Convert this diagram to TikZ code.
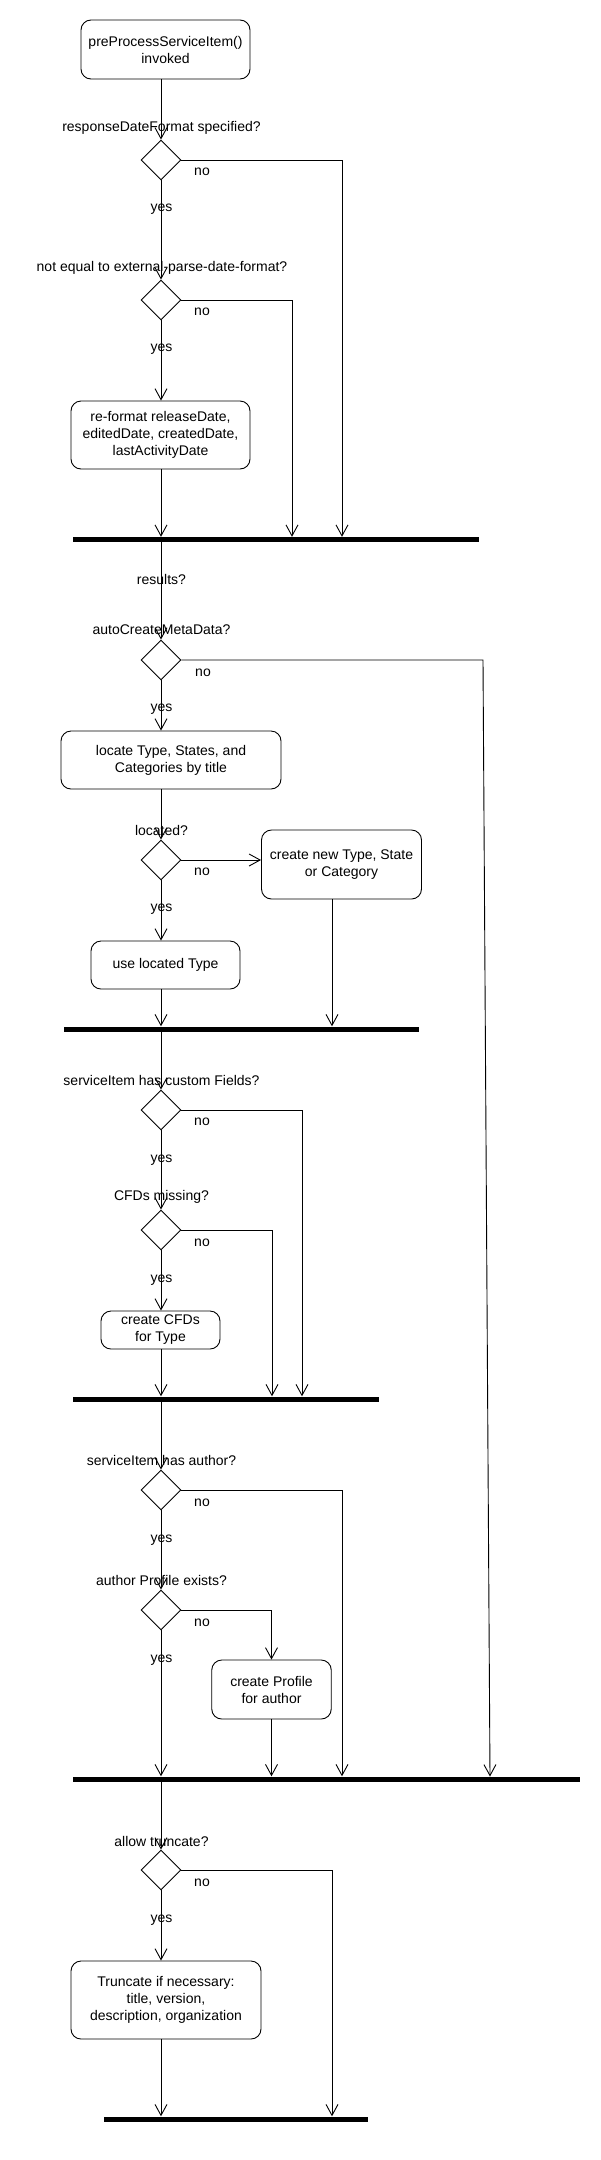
\documentclass[tikz,border=0pt]{standalone}
\usepackage{fontspec}
\setmainfont{Liberation Sans}
\usetikzlibrary{shapes.geometric,arrows.meta}
\begin{document}
\begin{tikzpicture}[x=1pt,y=-1pt,
  every node/.style={font=\fontsize{14}{17}\selectfont},
  box/.style={draw, rounded corners=10pt, align=center, inner sep=0pt, line width=0.9pt},
  dec/.style={draw, diamond, aspect=1, minimum width=40pt, minimum height=40pt, inner sep=0pt, line width=0.9pt},
  syncbar/.style={fill=black, inner sep=0pt, minimum height=5pt},
  lbl/.style={inner sep=0pt},
  flow/.style={line width=0.9pt, -{Straight Barb[length=11pt,width=12pt,line width=0.9pt]}}
]
\useasboundingbox (0,0) rectangle (600,2160);
% activity boxes
\node[box, minimum width=169pt, minimum height=59pt] (start) at (165.5,49.5) {preProcessServiceItem()\\invoked};
\node[box, minimum width=179pt, minimum height=68pt] (reformat) at (160.5,435) {re-format releaseDate,\\editedDate, createdDate,\\lastActivityDate};
\node[box, minimum width=220pt, minimum height=58pt] (locate) at (171,760) {locate Type, States, and\\Categories by title};
\node[box, minimum width=160pt, minimum height=69pt] (createnew) at (341.5,864.5) {create new Type, State\\or Category};
\node[box, minimum width=149pt, minimum height=48pt] (useloc) at (165.5,965) {use located Type};
\node[box, minimum width=119pt, minimum height=38pt] (cfd) at (160.5,1330) {create CFDs\\for Type};
\node[box, minimum width=119.5pt, minimum height=59pt] (profile) at (271.5,1689.5) {create Profile\\for author};
\node[box, minimum width=190pt, minimum height=78pt] (trunc) at (166,2000) {Truncate if necessary:\\title, version,\\description, organization};
% decisions
\node[dec] (d1) at (161,160) {};
\node[dec] (d2) at (161,300) {};
\node[dec] (d3) at (161,660) {};
\node[dec] (d4) at (161,860) {};
\node[dec] (d5) at (161,1110) {};
\node[dec] (d6) at (161,1230) {};
\node[dec] (d7) at (161,1490) {};
\node[dec] (d8) at (161,1610) {};
\node[dec] (d9) at (161,1870) {};
% synchronisation bars
\node[syncbar, minimum width=406pt] (bar1) at (276,539.5) {};
\node[syncbar, minimum width=355.5pt] (bar2) at (241.25,1029) {};
\node[syncbar, minimum width=306pt] (bar3) at (226,1399) {};
\node[syncbar, minimum width=507pt] (bar4) at (326.5,1779) {};
\node[syncbar, minimum width=264pt] (bar5) at (236,2119) {};
% question labels
\node[lbl] (q1) at (161.5,128) {responseDateFormat specified?};
\node[lbl] (q2) at (162,268) {not equal to external-parse-date-format?};
\node[lbl] (q3) at (161.5,579) {results?};
\node[lbl] (q4) at (161.5,630) {autoCreateMetaData?};
\node[lbl] (q5) at (161.5,830) {located?};
\node[lbl] (q6) at (161.5,1080) {serviceItem has custom Fields?};
\node[lbl] (q7) at (161.5,1197) {CFDs missing?};
\node[lbl] (q8) at (161.5,1460) {serviceItem has author?};
\node[lbl] (q9) at (161.5,1580) {author Profile exists?};
\node[lbl] (q10) at (161.5,1841) {allow truncate?};
% guard labels
\node[lbl] (y1) at (161.5,209) {yes};
\node[lbl] (n1l) at (202,172) {no};
\node[lbl] (y2) at (161.5,349) {yes};
\node[lbl] (n2l) at (202,312) {no};
\node[lbl] (y3) at (161.5,709) {yes};
\node[lbl] (n3l) at (203,673) {no};
\node[lbl] (y4) at (161.5,909) {yes};
\node[lbl] (n4l) at (202,872) {no};
\node[lbl] (y5) at (161.5,1160) {yes};
\node[lbl] (n5l) at (202,1122) {no};
\node[lbl] (y6) at (161.5,1280) {yes};
\node[lbl] (n6l) at (202,1243) {no};
\node[lbl] (y7) at (161.5,1540) {yes};
\node[lbl] (n7l) at (202,1503) {no};
\node[lbl] (y8) at (161.5,1660) {yes};
\node[lbl] (n8l) at (202,1623) {no};
\node[lbl] (y9) at (161.5,1920) {yes};
\node[lbl] (n9l) at (202,1883) {no};
% bend points
\coordinate (c1) at (342,160);
\coordinate (c2) at (292,300);
\coordinate (c3) at (483,660);
\coordinate (c3e) at (490,1776.5);
\coordinate (c4) at (332,900);
\coordinate (c5) at (302,1110);
\coordinate (c6) at (272,1230);
\coordinate (c7) at (342,1490);
\coordinate (c8) at (271.5,1610);
\coordinate (c9) at (332,1870);
% connectors
\draw[flow] (d1 |- start.south) -- (d1.north);
\draw[flow] (d1.south) -- (d2.north);
\draw[flow] (d1.east) -- (c1) -- (c1 |- bar1.north);
\draw[flow] (d2.south) -- (d2 |- reformat.north);
\draw[flow] (d2.east) -- (c2) -- (c2 |- bar1.north);
\draw[flow] (d2 |- reformat.south) -- (d2 |- bar1.north);
\draw[flow] (d3 |- bar1.south) -- (d3.north);
\draw[flow] (d3.south) -- (d3 |- locate.north);
\draw[flow] (d3.east) -- (c3) -- (c3e);
\draw[flow] (d3 |- locate.south) -- (d4.north);
\draw[flow] (d4.east) -- (createnew.west |- d4);
\draw[flow] (d4.south) -- (d4 |- useloc.north);
\draw[flow] (d4 |- useloc.south) -- (d4 |- bar2.north);
\draw[flow] (c4 |- createnew.south) -- (c4 |- bar2.north);
\draw[flow] (d5 |- bar2.south) -- (d5.north);
\draw[flow] (d5.south) -- (d6.north);
\draw[flow] (d5.east) -- (c5) -- (c5 |- bar3.north);
\draw[flow] (d6.east) -- (c6) -- (c6 |- bar3.north);
\draw[flow] (d6.south) -- (d6 |- cfd.north);
\draw[flow] (d6 |- cfd.south) -- (d6 |- bar3.north);
\draw[flow] (d7 |- bar3.south) -- (d7.north);
\draw[flow] (d7.south) -- (d8.north);
\draw[flow] (d7.east) -- (c7) -- (c7 |- bar4.north);
\draw[flow] (d8.east) -- (c8) -- (c8 |- profile.north);
\draw[flow] (d8.south) -- (d8 |- bar4.north);
\draw[flow] (c8 |- profile.south) -- (c8 |- bar4.north);
\draw[flow] (d9 |- bar4.south) -- (d9.north);
\draw[flow] (d9.south) -- (d9 |- trunc.north);
\draw[flow] (d9.east) -- (c9) -- (c9 |- bar5.north);
\draw[flow] (d9 |- trunc.south) -- (d9 |- bar5.north);
\end{tikzpicture}
\end{document}
